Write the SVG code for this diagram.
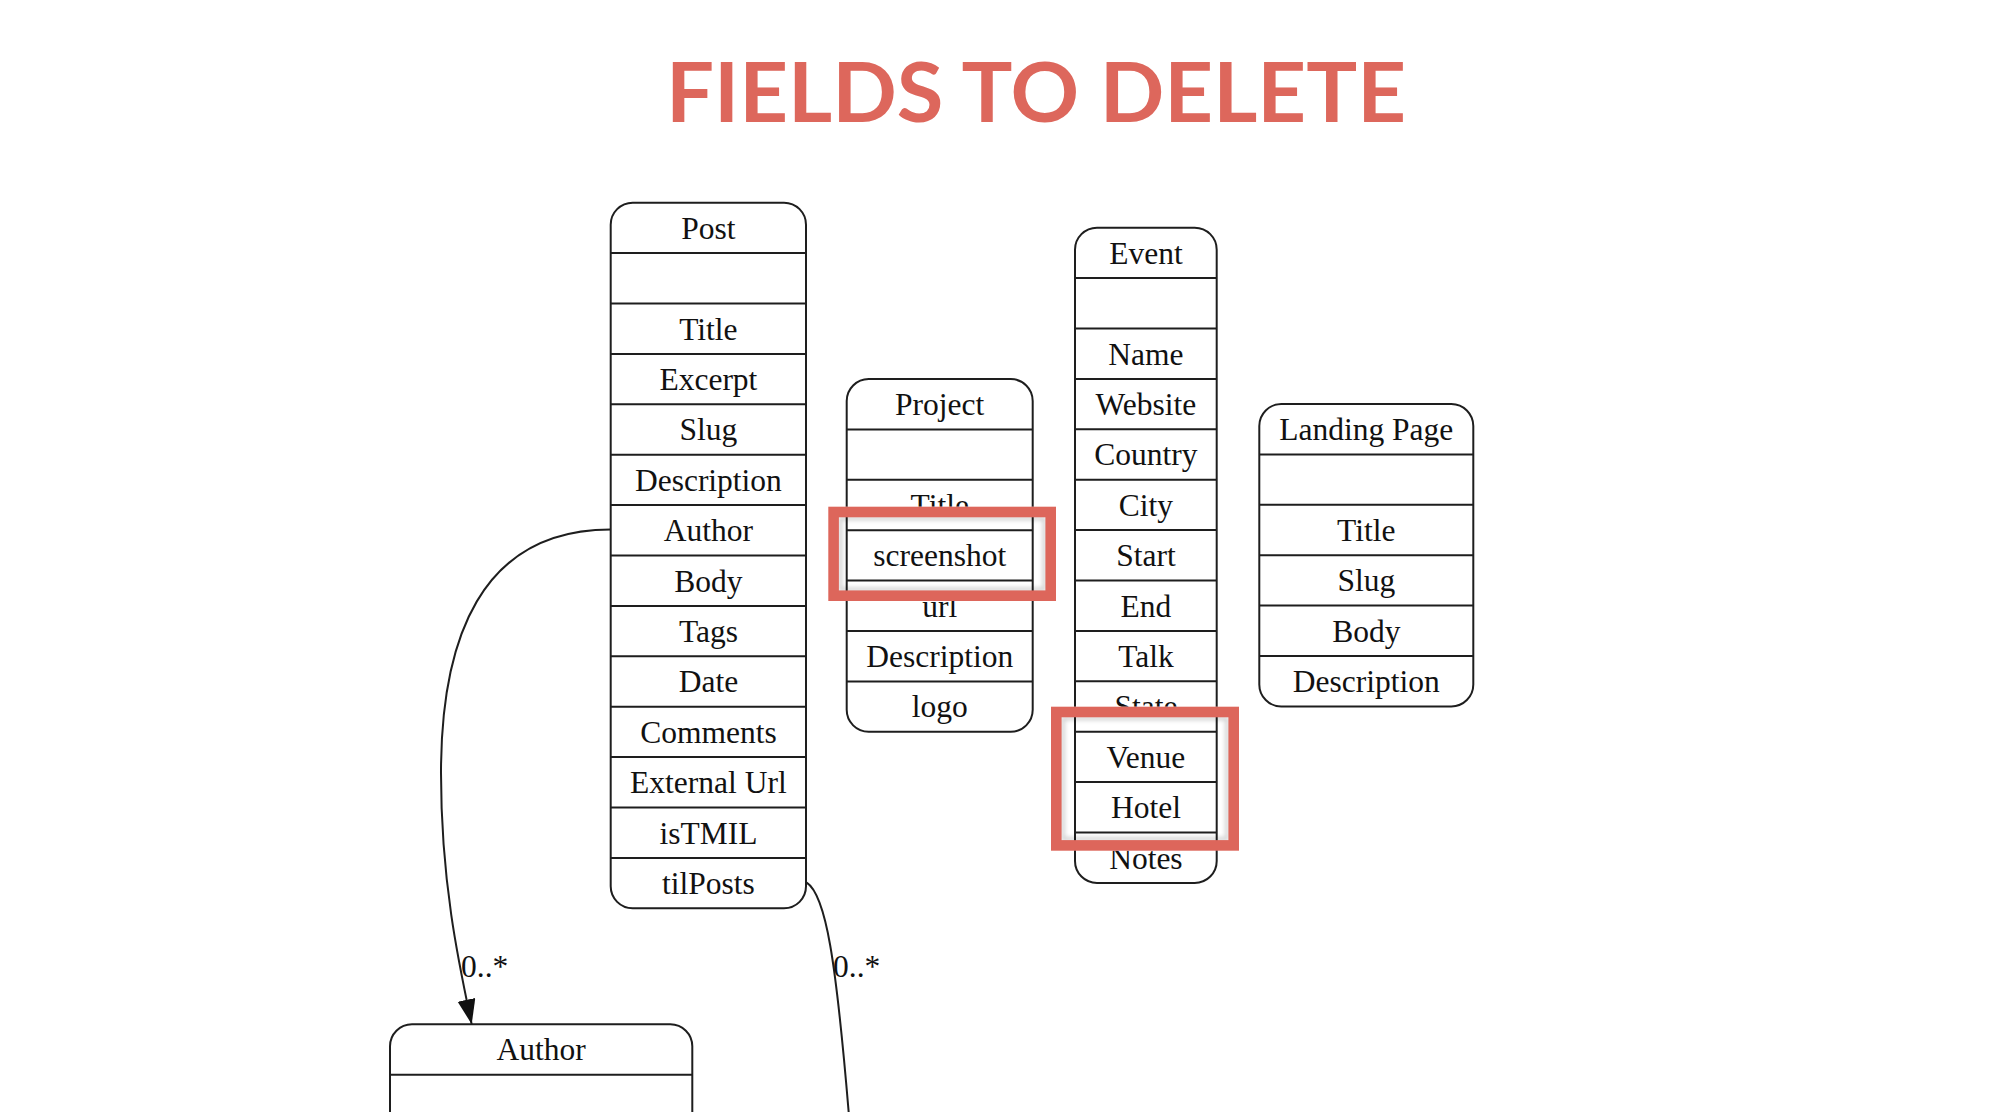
<svg xmlns="http://www.w3.org/2000/svg" width="1994" height="1112" viewBox="0 0 1994 1112">
<style>
.box{fill:#fff;stroke:#1e1e1e;stroke-width:2}
.sep{fill:none;stroke:#1e1e1e;stroke-width:2}
.t{font-family:"Liberation Serif","Times New Roman",serif;font-size:31.5px;fill:#111;text-anchor:middle}
.lbl{font-family:"Liberation Serif","Times New Roman",serif;font-size:31.5px;fill:#111}
.edge{fill:none;stroke:#1e1e1e;stroke-width:2}
.cover{fill:#fff;stroke:none}
.hl{fill:none;stroke:#dd665b;stroke-width:10.6}
.shadow{fill:none;stroke:#000;stroke-opacity:0.22;stroke-width:3;filter:url(#blur)}
</style>
<defs>
<marker id="arrow" markerUnits="userSpaceOnUse" markerWidth="26" markerHeight="20" refX="25" refY="9" orient="auto">
<path d="M0,0 L25,9 L0,18 z" fill="#111"/>
</marker>
<filter id="blur" x="-10%" y="-10%" width="120%" height="120%"><feGaussianBlur stdDeviation="2"/></filter>
</defs>
<rect width="1994" height="1112" fill="#fff"/>
<text id="title" x="1036" y="121.7" font-family="Lato,'Open Sans',sans-serif" font-weight="700" font-size="82" fill="#dd675c" text-anchor="middle" textLength="740" lengthAdjust="spacingAndGlyphs">FIELDS TO DELETE</text>

<g id="connectors">
<path class="edge" d="M610.7,529.5 C480,529.5 441,640 441,773 C441,880 458,960 471.7,1024.3" marker-end="url(#arrow)"/>
<path class="edge" d="M806.7,882.7 C826,895 836,960 849,1116"/>
<text class="lbl" x="461" y="977">0..*</text>
<text class="lbl" x="833" y="977">0..*</text>
</g>

<g id="post">
<rect class="box" x="610.7" y="202.7" width="195.3" height="705.6" rx="22"/>
<path class="sep" d="M610.7,253.1H806M610.7,303.5H806M610.7,353.9H806M610.7,404.3H806M610.7,454.7H806M610.7,505.1H806M610.7,555.5H806M610.7,605.9H806M610.7,656.3H806M610.7,706.7H806M610.7,757.1H806M610.7,807.5H806M610.7,857.9H806"/>
<text class="t" x="708.4" y="238.7">Post</text>
<text class="t" x="708.4" y="339.5">Title</text>
<text class="t" x="708.4" y="389.9">Excerpt</text>
<text class="t" x="708.4" y="440.3">Slug</text>
<text class="t" x="708.4" y="490.7">Description</text>
<text class="t" x="708.4" y="541.1">Author</text>
<text class="t" x="708.4" y="591.5">Body</text>
<text class="t" x="708.4" y="641.9">Tags</text>
<text class="t" x="708.4" y="692.3">Date</text>
<text class="t" x="708.4" y="742.7">Comments</text>
<text class="t" x="708.4" y="793.1">External Url</text>
<text class="t" x="708.4" y="843.5">isTMIL</text>
<text class="t" x="708.4" y="893.9">tilPosts</text>
</g>

<g id="project">
<rect class="box" x="846.7" y="379" width="186" height="352.8" rx="22"/>
<path class="sep" d="M846.7,429.4H1032.7M846.7,479.8H1032.7M846.7,530.2H1032.7M846.7,580.6H1032.7M846.7,631H1032.7M846.7,681.4H1032.7"/>
<text class="t" x="939.7" y="415">Project</text>
<text class="t" x="939.7" y="515.8">Title</text>
<text class="t" x="939.7" y="566.2">screenshot</text>
<text class="t" x="939.7" y="616.6">url</text>
<text class="t" x="939.7" y="667">Description</text>
<text class="t" x="939.7" y="717.4">logo</text>
</g>

<g id="event">
<rect class="box" x="1075" y="227.7" width="141.7" height="655.2" rx="22"/>
<path class="sep" d="M1075,278.1H1216.7M1075,328.5H1216.7M1075,378.9H1216.7M1075,429.3H1216.7M1075,479.7H1216.7M1075,530.1H1216.7M1075,580.5H1216.7M1075,630.9H1216.7M1075,681.3H1216.7M1075,731.7H1216.7M1075,782.1H1216.7M1075,832.5H1216.7"/>
<text class="t" x="1145.9" y="263.7">Event</text>
<text class="t" x="1145.9" y="364.5">Name</text>
<text class="t" x="1145.9" y="414.9">Website</text>
<text class="t" x="1145.9" y="465.3">Country</text>
<text class="t" x="1145.9" y="515.7">City</text>
<text class="t" x="1145.9" y="566.1">Start</text>
<text class="t" x="1145.9" y="616.5">End</text>
<text class="t" x="1145.9" y="666.9">Talk</text>
<text class="t" x="1145.9" y="717.3">State</text>
<text class="t" x="1145.9" y="767.7">Venue</text>
<text class="t" x="1145.9" y="818.1">Hotel</text>
<text class="t" x="1145.9" y="868.5">Notes</text>
</g>

<g id="landing-page">
<rect class="box" x="1259.3" y="404" width="214" height="302.4" rx="22"/>
<path class="sep" d="M1259.3,454.4H1473.3M1259.3,504.8H1473.3M1259.3,555.2H1473.3M1259.3,605.6H1473.3M1259.3,656H1473.3"/>
<text class="t" x="1366.3" y="440">Landing Page</text>
<text class="t" x="1366.3" y="540.8">Title</text>
<text class="t" x="1366.3" y="591.2">Slug</text>
<text class="t" x="1366.3" y="641.6">Body</text>
<text class="t" x="1366.3" y="692">Description</text>
</g>

<g id="author">
<rect class="box" x="390" y="1024.3" width="302.3" height="200" rx="22"/>
<path class="sep" d="M390,1074.7H692.3"/>
<text class="t" x="541.2" y="1060.3">Author</text>
</g>

<g id="highlight-screenshot">
<rect class="cover" x="828.3" y="506.7" width="227.7" height="94.3"/>
<path class="sep" d="M846.7,506.7V601M1032.7,506.7V601M846.7,530.2H1032.7M846.7,580.6H1032.7"/>
<text class="t" x="939.7" y="566.2">screenshot</text>
<rect class="shadow" x="840.5" y="518.5" width="203.6" height="70.8"/>
<rect class="hl" x="833.6" y="512" width="217.1" height="83.7"/>
</g>

<g id="highlight-venue-hotel">
<rect class="cover" x="1051" y="706.7" width="188" height="144"/>
<path class="sep" d="M1075,706.7V850.7M1216.7,706.7V850.7M1075,731.7H1216.7M1075,782.1H1216.7M1075,832.5H1216.7"/>
<text class="t" x="1145.9" y="767.7">Venue</text>
<text class="t" x="1145.9" y="818.1">Hotel</text>
<rect class="shadow" x="1063.2" y="718.5" width="163.6" height="120.4"/>
<rect class="hl" x="1056.3" y="712" width="177.4" height="133.4"/>
</g>
</svg>
